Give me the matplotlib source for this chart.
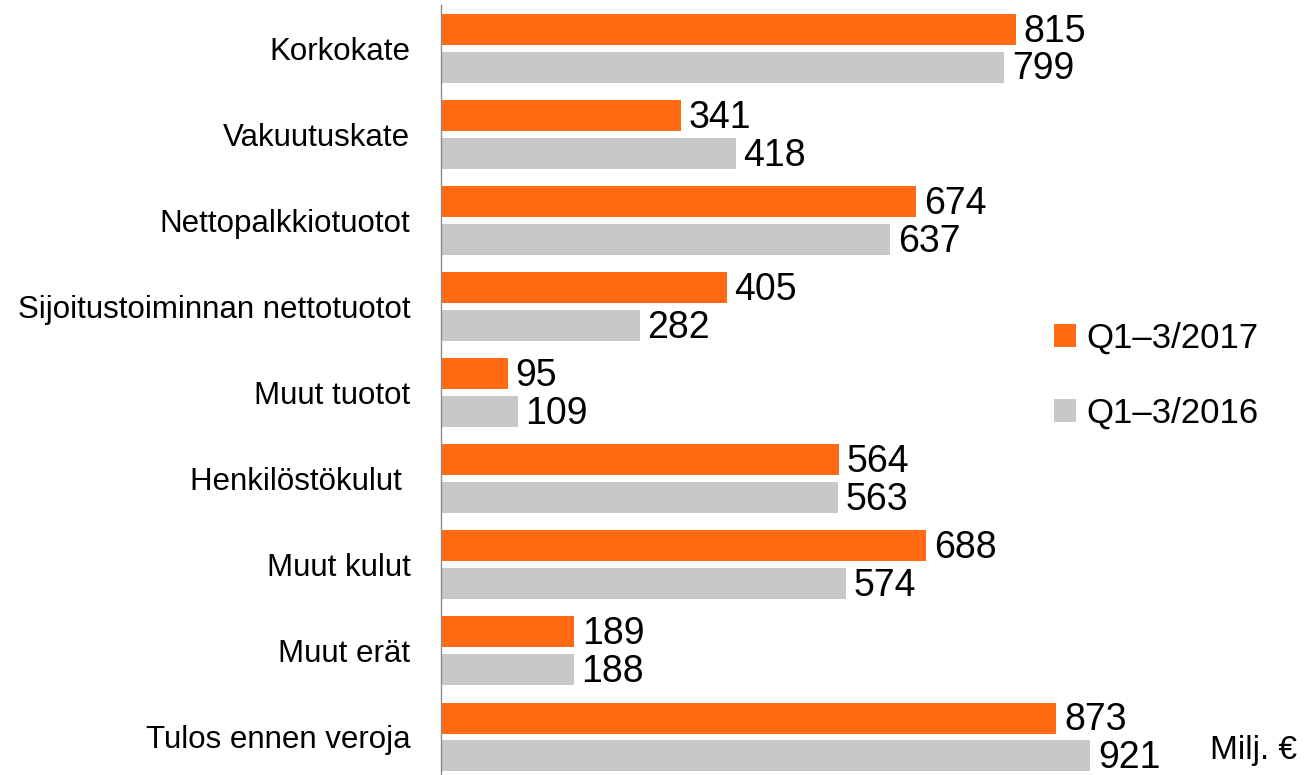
import matplotlib
matplotlib.use('Agg')
import numpy as np
import matplotlib.pyplot as plt
from matplotlib.patches import Patch

plt.rcParams['font.family'] = ['Liberation Sans', 'DejaVu Sans']

# data (milj. €)
categories = ['Korkokate', 'Vakuutuskate', 'Nettopalkkiotuotot',
              'Sijoitustoiminnan nettotuotot', 'Muut tuotot', 'Henkilöstökulut ',
              'Muut kulut', 'Muut erät', 'Tulos ennen veroja']
values_2017 = [815, 341, 674, 405, 95, 564, 688, 189, 873]
values_2016 = [799, 418, 637, 282, 109, 563, 574, 188, 921]
series_labels = ['Q1\u20133/2017', 'Q1\u20133/2016']

ORANGE = '#FF6A13'
GREY = '#C8C8C8'

fig = plt.figure(figsize=(13.05, 7.75), dpi=100)
ax = fig.add_axes([441 / 1305, -5 / 775, 864 / 1305, 774.6 / 775])

y = np.arange(len(categories))
h = 0.36
off = 0.22
b1 = ax.barh(y - off, values_2017, height=h, color=ORANGE)
b2 = ax.barh(y + off, values_2016, height=h, color=GREY)

# value labels next to the bar ends
for bars in (b1, b2):
    for rect in bars:
        w = rect.get_width()
        ax.annotate(f'{int(w)}', xy=(w, rect.get_y() + rect.get_height() / 2),
                    xytext=(5.5, -1.5), textcoords='offset points',
                    ha='left', va='center', fontsize=27, color='black')

ax.set_xlim(0, 864 / 0.705)
ax.set_ylim(len(categories) - 0.5, -0.5)
ax.set_yticks(y)
ax.set_yticklabels(categories, fontsize=22.5)
ax.tick_params(axis='y', length=0, pad=22)
ax.set_xticks([])
for s in ['top', 'right', 'bottom']:
    ax.spines[s].set_visible(False)
ax.spines['left'].set_color('#8C8C8C')
ax.spines['left'].set_linewidth(1.0)

handles = [Patch(facecolor=ORANGE), Patch(facecolor=GREY)]
fig.legend(handles, series_labels, loc='upper left',
           bbox_to_anchor=(1040 / 1305, 1 - 308 / 775), frameon=False,
           fontsize=25, handlelength=0.65, handleheight=0.65,
           handletextpad=0.3, labelspacing=1.2, borderaxespad=0)

fig.text(1297 / 1305, 1 - 750 / 775, 'Milj. \u20ac', ha='right', va='center',
         fontsize=24)

fig.savefig('out.png', dpi=100)
